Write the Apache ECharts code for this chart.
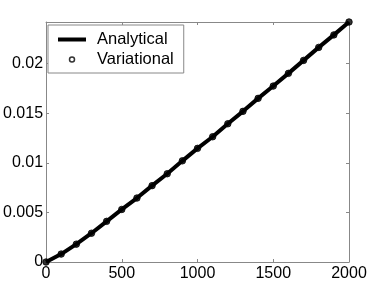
<!DOCTYPE html>
<html>
<head>
<meta charset="utf-8">
<script src="https://cdn.jsdelivr.net/npm/echarts@6/dist/echarts.min.js"></script>
<style>html,body{margin:0;padding:0;background:#fff}#c{width:374px;height:282px}</style>
</head>
<body>
<div id="c"></div>
<script>
var xValues = [0,100,200,300,400,500,600,700,800,900,1000,1100,1200,1300,1400,1500,1600,1700,1800,1900,2000];
var analytical = [0,0.0008,0.0018,0.0029,0.0041,0.0053,0.00645,0.0077,0.0089,0.0102,0.01146,0.01263,0.01394,0.01519,0.0165,0.01774,0.01902,0.02033,0.02164,0.0229,0.0242];
var variational = [0,0.0008,0.0018,0.0029,0.0041,0.0053,0.00645,0.0077,0.0089,0.0102,0.01146,0.01263,0.01394,0.01519,0.0165,0.01774,0.01902,0.02033,0.02164,0.0229,0.0242];
var seriesNames = ['Analytical','Variational'];
var yTickLabels = ['0','0.005','0.01','0.015','0.02'];
var xTickLabels = ['0','500','1000','1500','2000'];

function pairs(xs, ys){ return xs.map(function(x,i){ return [x, ys[i]]; }); }

var chart = echarts.init(document.getElementById('c'), null, {renderer:'canvas'});
var gray = '#888';
var font = 'Liberation Sans, Arial, Helvetica, sans-serif';
function pick(labels, step){ return function(v){ var i = Math.round(v/step); return (Math.abs(v - i*step) < step*1e-6 && labels[i] !== undefined) ? labels[i] : ''; }; }
chart.setOption({
  animation: false,
  backgroundColor: '#fff',
  grid: {left: 45, right: 25, top: 22, bottom: 20, containLabel: false},
  xAxis: [
    {type:'value', min:0, max:2000, interval:500, position:'bottom',
     axisLine:{show:true, onZero:false, lineStyle:{color:gray, width:1}},
     axisTick:{show:true, inside:true, length:3, lineStyle:{color:gray}},
     axisLabel:{color:'#000', fontSize:16, fontFamily:font, margin:4, formatter:pick(xTickLabels,500)},
     splitLine:{show:false}},
    {type:'value', min:0, max:2000, interval:500, position:'top',
     axisLine:{show:true, onZero:false, lineStyle:{color:gray, width:1}},
     axisTick:{show:true, inside:true, length:3, lineStyle:{color:gray}},
     axisLabel:{show:false}, splitLine:{show:false}}
  ],
  yAxis: [
    {type:'value', min:0, max:0.0242, interval:0.005, position:'left',
     axisLine:{show:true, onZero:false, lineStyle:{color:gray, width:1}},
     axisTick:{show:true, inside:true, length:3, lineStyle:{color:gray}},
     axisLabel:{color:'#000', fontSize:16, fontFamily:font, margin:3, showMaxLabel:false,
       formatter:pick(yTickLabels,0.005)},
     splitLine:{show:false}},
    {type:'value', min:0, max:0.0242, interval:0.005, position:'right',
     axisLine:{show:true, onZero:false, lineStyle:{color:gray, width:1}},
     axisTick:{show:true, inside:true, length:3, lineStyle:{color:gray}},
     axisLabel:{show:false}, splitLine:{show:false}}
  ],
  legend: {
    orient:'vertical', left:48, top:25, width:137,
    backgroundColor:'#fff', borderColor:gray, borderWidth:1, borderRadius:0,
    padding:[6,10,5,10], itemGap:3, itemWidth:28, itemHeight:5,
    textStyle:{color:'#000', fontSize:16.5, fontFamily:font, padding:[0,0,0,6]},
    data:[
      {name:seriesNames[0], icon:'path://M0,0L28,0L28,4L0,4Z', itemStyle:{color:'#000', borderWidth:0}},
      {name:seriesNames[1], icon:'circle', itemStyle:{color:'#fff', borderColor:'#000', borderWidth:1.5}}
    ]
  },
  series: [
    {name:seriesNames[1], type:'scatter', data:pairs(xValues, variational),
     symbol:'circle', symbolSize:6.5, clip:false, z:4,
     itemStyle:{color:'#000', borderColor:'#000', borderWidth:1}},
    {name:seriesNames[0], type:'line', data:pairs(xValues, analytical),
     showSymbol:false, symbol:'none', clip:false, z:3,
     lineStyle:{color:'#000', width:4, cap:'butt'}, itemStyle:{color:'#000'}}
  ]
});
</script>
</body>
</html>
